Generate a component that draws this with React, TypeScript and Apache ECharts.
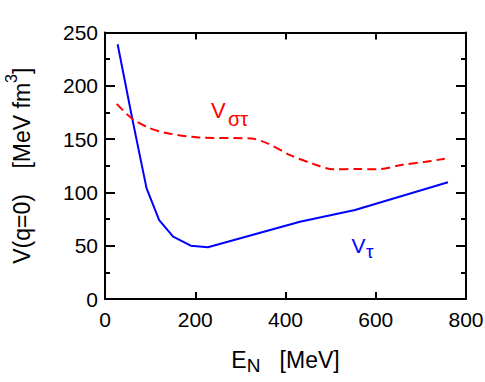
import React, { useEffect, useRef } from "react";
import * as echarts from "echarts";

// V_tau (blue, solid)
const tauE = [28, 60, 92, 120, 151, 190, 228, 432, 554, 760];
const tauV = [239, 170, 104, 74, 58.5, 50, 48.5, 72.5, 83.5, 109.5];
// V_sigma-tau (red, dashed)
const sigTauE = [26, 59, 95, 133, 207, 325, 360, 410, 460, 506, 560, 602, 660, 710, 753];
const sigTauV = [183, 169.5, 161, 156, 151.5, 150.5, 146, 135, 127, 121.6, 122, 121.6, 126, 128.7, 131.5];

const xMin = 0, xMax = 800, xStep = 200;
const yMin = 0, yMax = 250, yStep = 50;

const FONT = "Liberation Sans, Arial, sans-serif";

export default function App() {
  const ref = useRef<HTMLDivElement>(null);
  useEffect(() => {
    document.body.style.margin = "0";
    const chart = echarts.init(ref.current!, null, { renderer: "svg" });
    const axisLine = { show: true, onZero: false, lineStyle: { color: "#000", width: 2 } };
    const xBase = {
      type: "value" as const, min: xMin, max: xMax, interval: xStep,
      axisLine, splitLine: { show: false },
      axisTick: { show: true, inside: true, length: 7, lineStyle: { color: "#000", width: 2 } },
    };
    const yBase = {
      type: "value" as const, min: yMin, max: yMax, interval: yStep,
      axisLine, splitLine: { show: false },
      axisTick: { show: true, inside: true, length: 10, lineStyle: { color: "#000", width: 2 } },
      minorTick: { show: true, splitNumber: 2, length: 5, lineStyle: { color: "#000", width: 2 } },
    };
    chart.setOption({
      animation: false,
      grid: { left: 105, right: 19, top: 32.5, bottom: 83, containLabel: false, outerBoundsMode: "none" },
      xAxis: [
        {
          ...xBase, position: "bottom",
          axisLabel: { fontSize: 21, color: "#000", margin: 10, fontFamily: FONT },
          name: "{e|E}{n|N}{e|   [MeV]}",
          nameLocation: "middle",
          nameGap: 43.5,
          nameTextStyle: {
            fontFamily: FONT, color: "#000",
            rich: {
              e: { fontSize: 23, fontFamily: FONT, color: "#000", lineHeight: 34, verticalAlign: "middle" },
              n: { fontSize: 19, fontFamily: FONT, color: "#000", verticalAlign: "middle", padding: [12, 0, 0, 0] },
            },
          },
        },
        { ...xBase, position: "top", axisLabel: { show: false } },
      ],
      yAxis: [
        {
          ...yBase, position: "left",
          axisLabel: { fontSize: 21, color: "#000", margin: 7, fontFamily: FONT },
          name: "{a|V(q=0)    [MeV fm}{s|3}{a|]}",
          nameLocation: "middle",
          nameGap: 63.5,
          nameTextStyle: {
            fontFamily: FONT, color: "#000",
            rich: {
              a: { fontSize: 23, fontFamily: FONT, color: "#000", lineHeight: 40, verticalAlign: "middle" },
              s: { fontSize: 16, fontFamily: FONT, color: "#000", verticalAlign: "middle", padding: [0, 0, 20, 0] },
            },
          },
        },
        { ...yBase, position: "right", axisLabel: { show: false } },
      ],
      series: [
        {
          type: "line",
          data: tauE.map((e, i) => [e, tauV[i]]),
          showSymbol: false,
          lineStyle: { color: "#0000ff", width: 2 },
          itemStyle: { color: "#0000ff" },
          xAxisIndex: 0, yAxisIndex: 0,
        },
        {
          type: "line",
          data: sigTauE.map((e, i) => [e, sigTauV[i]]),
          showSymbol: false,
          smooth: 0.3,
          lineStyle: { color: "#ff0000", width: 2, type: [9, 5] },
          itemStyle: { color: "#ff0000" },
          xAxisIndex: 0, yAxisIndex: 0,
        },
      ],
      graphic: [
        { type: "text", x: 211, y: 110.5, style: { text: "V", fontSize: 22, fontFamily: FONT, fill: "#ff0000", verticalAlign: "middle" } },
        { type: "text", x: 228, y: 119, style: { text: "στ", fontSize: 20, fontFamily: FONT, fill: "#ff0000", verticalAlign: "middle" } },
        { type: "text", x: 351.5, y: 245.5, style: { text: "V", fontSize: 21, fontFamily: FONT, fill: "#0000ff", verticalAlign: "middle" } },
        { type: "text", x: 366, y: 251, style: { text: "τ", fontSize: 19, fontFamily: FONT, fill: "#0000ff", verticalAlign: "middle" } },
      ],
    });
    return () => chart.dispose();
  }, []);
  return <div ref={ref} style={{ width: 485, height: 382 }} />;
}
